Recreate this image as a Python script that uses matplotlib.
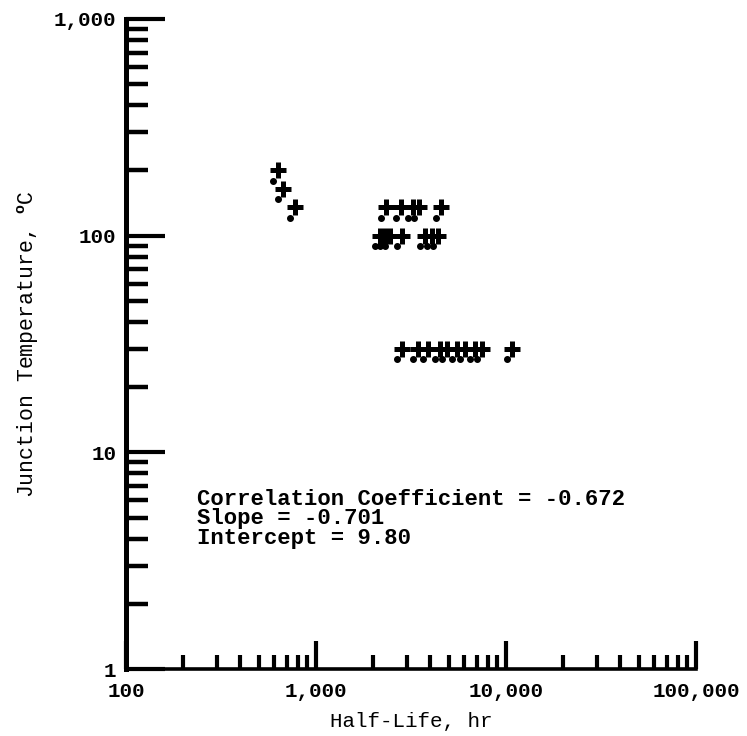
import matplotlib
matplotlib.use("Agg")
import matplotlib.pyplot as plt
from matplotlib.ticker import FixedLocator, FixedFormatter, NullFormatter
from matplotlib.transforms import offset_copy

# half-life (hr) and junction temperature (deg C)
half_life_200 = [631]
temp_200 = [200]

half_life_165 = [670]
temp_165 = [165]

half_life_135 = [775, 2340, 2800, 3240, 3490, 4550]
temp_135 = [135, 135, 135, 135, 135, 135]

half_life_100 = [2170, 2310, 2450, 2840, 3750, 4080, 4390]
temp_100 = [100, 100, 100, 100, 100, 100, 100]

half_life_30 = [2840, 3440, 3890, 4490, 4890, 5520, 6090, 6870, 7480, 10750]
temp_30 = [30, 30, 30, 30, 30, 30, 30, 30, 30, 30]

x_ticks = [100, 1000, 10000, 100000]
x_tick_labels = ["100", "1,000", "10,000", "100,000"]
y_ticks = [1, 10, 100, 1000]
y_tick_labels = ["1", "10", "100", "1,000"]

stats_text = (
    "Correlation Coefficient = -0.672\n"
    "Slope = -0.701\n"
    "Intercept = 9.80"
)

FONT = "Liberation Mono"

plt.rcParams["font.family"] = [FONT, "DejaVu Sans"]
plt.rcParams["font.weight"] = "bold"
plt.rcParams["mathtext.fontset"] = "custom"
plt.rcParams["mathtext.rm"] = FONT + ":bold"

fig = plt.figure(figsize=(7.47, 7.36), dpi=100)
ax = fig.add_axes([0.1687, 0.0910, 0.7630, 0.8832])

xs = half_life_200 + half_life_165 + half_life_135 + half_life_100 + half_life_30
ys = temp_200 + temp_165 + temp_135 + temp_100 + temp_30

# the printed "+" always has a little blot below-left of it
blot = offset_copy(ax.transData, fig=fig, x=-3.6, y=-7.5, units="points")
ax.plot(xs, ys, linestyle="none", marker="o", markersize=4,
        color="black", transform=blot, clip_on=False)
ax.plot(xs, ys, linestyle="none", marker="+", markersize=12,
        markeredgewidth=3.6, color="black", clip_on=False)

ax.set_xscale("log")
ax.set_yscale("log")
ax.set_xlim(100, 100000)
ax.set_ylim(1, 1000)

ax.xaxis.set_major_locator(FixedLocator(x_ticks))
ax.xaxis.set_major_formatter(FixedFormatter(x_tick_labels))
ax.yaxis.set_major_locator(FixedLocator(y_ticks))
ax.yaxis.set_major_formatter(FixedFormatter(y_tick_labels))

x_minor = [m * d for d in x_ticks[:-1] for m in range(2, 10)]
y_minor = [m * d for d in y_ticks[:-1] for m in range(2, 10)]
ax.xaxis.set_minor_locator(FixedLocator(x_minor))
ax.yaxis.set_minor_locator(FixedLocator(y_minor))
ax.xaxis.set_minor_formatter(NullFormatter())
ax.yaxis.set_minor_formatter(NullFormatter())

ax.spines["top"].set_visible(False)
ax.spines["right"].set_visible(False)
ax.spines["left"].set_linewidth(3.6)
ax.spines["bottom"].set_linewidth(2.6)

ax.tick_params(axis="y", which="major", direction="in", length=28,
               width=3.0, pad=7, labelsize=15)
ax.tick_params(axis="y", which="minor", direction="in", length=16,
               width=3.2)
ax.tick_params(axis="x", which="major", direction="in", length=20,
               width=3.0, pad=9, labelsize=15)
ax.tick_params(axis="x", which="minor", direction="in", length=10,
               width=3.0)

ax.set_xlabel("Half-Life, hr", fontsize=15)
ax.set_ylabel("Junction Temperature, $^{\\mathrm{o}}$C", fontsize=15.5)
ax.xaxis.set_label_coords(0.5, -0.066)
ax.yaxis.set_label_coords(-0.149, 0.5)

ax.text(0.125, 0.277, stats_text, transform=ax.transAxes,
        fontsize=16, va="top", ha="left", linespacing=0.9)

fig.savefig("out.png", dpi=100)
plt.close(fig)
